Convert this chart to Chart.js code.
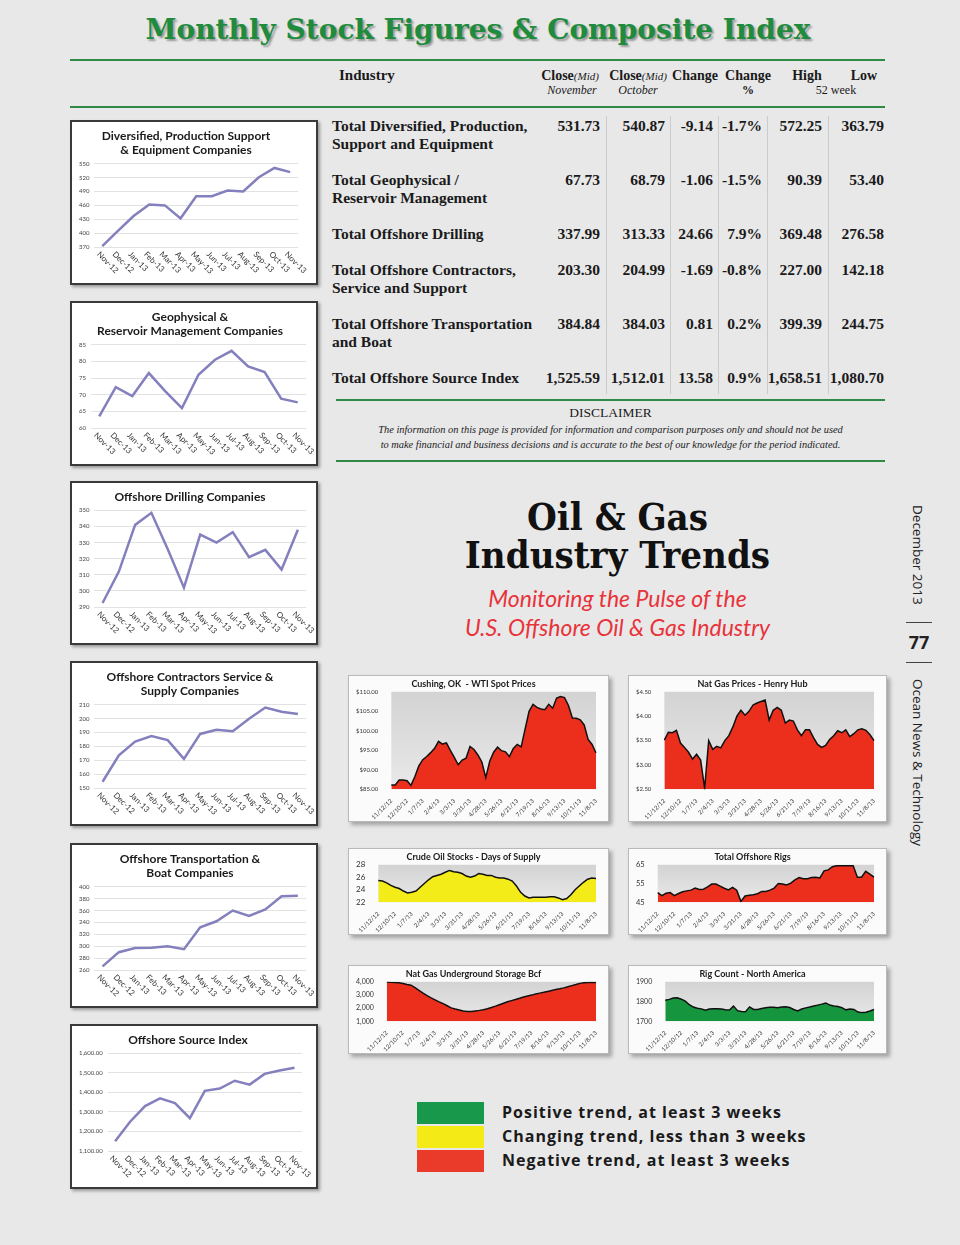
<!DOCTYPE html>
<html>
<head>
<meta charset="utf-8">
<script src="https://cdn.jsdelivr.net/npm/chart.js@4.4.0/dist/chart.umd.min.js"></script>
<style>
  body { margin: 0; background: #e8e8e9; }
  #page { position: relative; width: 960px; height: 1245px; background: #e8e8e9; overflow: hidden; font-family: "Liberation Serif", serif; color: #1a1a1a; }
  .abs { position: absolute; }
  .gline { position: absolute; height: 2px; background: #2f8a45; }
  .vsep { position: absolute; width: 1px; background: #cbcbcb; top: 116px; height: 278px; }
  .hdr { position: absolute; width: 100px; text-align: center; font-size: 14px; font-weight: bold; }
  .hdr i { font-size: 11px; font-weight: normal; }
  .sub { position: absolute; width: 100px; text-align: center; font-size: 12px; font-style: italic; }
  .rowname { position: absolute; left: 332px; font-size: 15.5px; font-weight: bold; line-height: 18px; }
  .num { position: absolute; width: 80px; text-align: right; font-size: 15.5px; font-weight: bold; line-height: 18px; }
  .lbox { position: absolute; left: 70px; width: 244px; border: 2px solid #3a3a3a; background: #fff; box-shadow: 2px 2px 3px rgba(0,0,0,0.35); }
  .rbox { position: absolute; border: 1px solid #b9b9b9; background: #fbfbfb; box-shadow: 3px 3px 4px rgba(0,0,0,0.3); }
  canvas { display: block; }
  .leg { position: absolute; left: 417px; width: 67px; height: 22px; }
  .legt { position: absolute; left: 502px; font-family: "Open Sans", sans-serif; font-weight: bold; font-size: 16px; letter-spacing: 1px; color: #1a1a1a; }
  .side { position: absolute; writing-mode: vertical-rl; font-family: "Open Sans", sans-serif; font-size: 13.5px; color: #222; }
</style>
</head>
<body>
<div id="page">
  <div class="abs" style="left:0;width:956px;top:13px;text-align:center;font-family:'DejaVu Serif',serif;font-weight:bold;font-size:28px;color:#1e8b3d;text-shadow:2px 2px 2px rgba(0,0,0,0.35);">Monthly Stock Figures &amp; Composite Index</div>
  <div class="gline" style="left:70px;width:815px;top:59px;"></div>

  <div class="abs" style="left:339px;top:67px;font-size:15px;font-weight:bold;">Industry</div>
  <div class="hdr" style="left:520px;top:68px;">Close<i>(Mid)</i></div>
  <div class="hdr" style="left:588px;top:68px;">Close<i>(Mid)</i></div>
  <div class="hdr" style="left:645px;top:68px;">Change</div>
  <div class="hdr" style="left:698px;top:68px;">Change</div>
  <div class="hdr" style="left:757px;top:68px;">High</div>
  <div class="hdr" style="left:814px;top:68px;">Low</div>
  <div class="sub" style="left:522px;top:83px;">November</div>
  <div class="sub" style="left:588px;top:83px;">October</div>
  <div class="sub" style="left:698px;top:83px;font-style:normal;font-weight:bold;">%</div>
  <div class="sub" style="left:786px;top:83px;font-style:normal;">52 week</div>
  <div class="gline" style="left:70px;width:815px;top:106px;"></div>

  <div class="vsep" style="left:606px;"></div>
  <div class="vsep" style="left:670px;"></div>
  <div class="vsep" style="left:718px;"></div>
  <div class="vsep" style="left:767px;"></div>
  <div class="vsep" style="left:828px;"></div>
  <div id="table"></div>

  <div class="gline" style="left:336px;width:549px;top:399px;"></div>
  <div class="abs" style="left:336px;width:549px;top:405px;text-align:center;font-size:13.5px;">DISCLAIMER</div>
  <div class="abs" style="left:336px;width:549px;top:422px;text-align:center;font-size:10.4px;font-style:italic;line-height:15px;">The information on this page is provided for information and comparison purposes only and should not be used<br>to make financial and business decisions and is accurate to the best of our knowledge for the period indicated.</div>
  <div class="gline" style="left:336px;width:549px;top:460px;"></div>

  <div class="abs" style="left:420px;width:395px;top:498px;text-align:center;font-family:'DejaVu Serif',serif;font-weight:bold;font-size:38px;line-height:38px;color:#111;transform:scaleX(0.9);">Oil &amp; Gas<br>Industry Trends</div>
  <div class="abs" style="left:420px;width:395px;top:584px;text-align:center;font-family:Lato,sans-serif;font-style:italic;font-size:23px;line-height:29px;color:#e8333b;">Monitoring the Pulse of the<br>U.S. Offshore Oil &amp; Gas Industry</div>

  <div class="side" style="left:909px;top:505px;">December 2013</div>
  <div class="abs" style="left:906px;width:26px;top:622px;height:1px;background:#444;"></div>
  <div class="abs" style="left:900px;width:38px;top:630px;text-align:center;font-family:'Open Sans',sans-serif;font-weight:bold;font-size:18px;color:#222;">77</div>
  <div class="abs" style="left:906px;width:26px;top:662px;height:1px;background:#444;"></div>
  <div class="side" style="left:909px;top:679px;">Ocean News &amp; Technology</div>

  <div class="lbox" style="top:120px;height:161px;"><canvas id="c1" width="244" height="161"></canvas></div>
  <div class="lbox" style="top:301px;height:161px;"><canvas id="c2" width="244" height="161"></canvas></div>
  <div class="lbox" style="top:481px;height:160px;"><canvas id="c3" width="244" height="160"></canvas></div>
  <div class="lbox" style="top:661px;height:161px;"><canvas id="c4" width="244" height="161"></canvas></div>
  <div class="lbox" style="top:843px;height:161px;"><canvas id="c5" width="244" height="161"></canvas></div>
  <div class="lbox" style="top:1024px;height:161px;"><canvas id="c6" width="244" height="161"></canvas></div>

  <div class="rbox" style="left:348px;top:675px;"><canvas id="a1" width="259" height="145"></canvas></div>
  <div class="rbox" style="left:628px;top:675px;"><canvas id="a2" width="257" height="145"></canvas></div>
  <div class="rbox" style="left:348px;top:848px;"><canvas id="a3" width="259" height="85"></canvas></div>
  <div class="rbox" style="left:628px;top:848px;"><canvas id="a4" width="257" height="85"></canvas></div>
  <div class="rbox" style="left:348px;top:965px;"><canvas id="a5" width="259" height="87"></canvas></div>
  <div class="rbox" style="left:628px;top:965px;"><canvas id="a6" width="257" height="87"></canvas></div>

  <div class="leg" style="top:1102px;background:#17984a;"></div>
  <div class="leg" style="top:1126px;background:#f3ea16;"></div>
  <div class="leg" style="top:1150px;background:#ea3a2a;"></div>
  <div class="legt" style="top:1101px;">Positive trend, at least 3 weeks</div>
  <div class="legt" style="top:1125px;">Changing trend, less than 3 weeks</div>
  <div class="legt" style="top:1149px;">Negative trend, at least 3 weeks</div>
</div>

<script>
// table
const industries = [
  ['Total Diversified, Production,', 'Support and Equipment'],
  ['Total Geophysical /', 'Reservoir Management'],
  ['Total Offshore Drilling'],
  ['Total Offshore Contractors,', 'Service and Support'],
  ['Total Offshore Transportation', 'and Boat'],
  ['Total Offshore Source Index']
];
const closeNov = ['531.73', '67.73', '337.99', '203.30', '384.84', '1,525.59'];
const closeOct = ['540.87', '68.79', '313.33', '204.99', '384.03', '1,512.01'];
const changeAbs = ['-9.14', '-1.06', '24.66', '-1.69', '0.81', '13.58'];
const changePct = ['-1.7%', '-1.5%', '7.9%', '-0.8%', '0.2%', '0.9%'];
const high52 = ['572.25', '90.39', '369.48', '227.00', '399.39', '1,658.51'];
const low52 = ['363.79', '53.40', '276.58', '142.18', '244.75', '1,080.70'];

// monthly line charts
const months = ['Nov-12', 'Dec-12', 'Jan-13', 'Feb-13', 'Mar-13', 'Apr-13', 'May-13', 'Jun-13', 'Jul-13', 'Aug-13', 'Sep-13', 'Oct-13', 'Nov-13'];
const monthsGeo = ['Nov-13', 'Dec-13', 'Jan-13', 'Feb-13', 'Mar-13', 'Apr-13', 'May-13', 'Jun-13', 'Jul-13', 'Aug-13', 'Sep-13', 'Oct-13', 'Nov-13'];
const diversified = [372, 405, 437, 462, 460, 432, 480, 480, 492, 490, 521, 541, 532];
const geophysical = [63.5, 72.3, 69.6, 76.5, 71, 66, 76, 80.5, 83.2, 78.5, 76.8, 68.8, 67.7];
const drilling = [292.5, 312, 341, 348.5, 326, 302, 335, 330, 336.5, 321, 325.5, 313.3, 338];
const contractors = [154.5, 173.5, 183.5, 187.5, 184.5, 171, 189, 192, 191, 200, 208, 205, 203.3];
const transport = [266, 290, 297, 297.5, 300, 295, 332, 342, 360, 351, 362, 384, 385];
const transportTicks = ['260', '280', '300', '320', '240', '360', '380', '400'];
const sourceIndex = [1150, 1250, 1330, 1370, 1345, 1268, 1408, 1420, 1460, 1440, 1495, 1512, 1526];

// weekly area charts
const weekTicks = ['11/12/12', '12/10/12', '1/7/13', '2/4/13', '3/3/13', '3/31/13', '4/28/13', '5/26/13', '6/21/13', '7/19/13', '8/16/13', '9/13/13', '10/11/13', '11/8/13'];
const wtiSpot = [86.1, 86.1, 87.4, 87.4, 87.2, 86.0, 88.3, 91.0, 92.6, 93.4, 94.4, 95.5, 97.3, 96.6, 96.9, 95.0, 93.2, 91.3, 92.5, 93.0, 96.0, 95.2, 93.8, 92.0, 88.0, 92.2, 94.5, 95.8, 94.9, 94.6, 93.4, 95.5, 96.5, 95.9, 100.5, 105.0, 106.8, 106.0, 105.6, 105.4, 106.8, 105.8, 108.4, 108.8, 108.5, 106.5, 103.3, 103.2, 102.8, 101.5, 97.8, 96.5, 94.3];
const henryHub = [3.51, 3.67, 3.66, 3.71, 3.45, 3.36, 3.26, 3.12, 3.22, 3.10, 2.52, 3.50, 3.32, 3.38, 3.35, 3.50, 3.60, 3.78, 4.00, 4.12, 4.02, 4.10, 4.23, 4.27, 4.30, 4.33, 3.92, 4.12, 4.18, 4.12, 3.86, 3.92, 3.90, 3.72, 3.60, 3.72, 3.72, 3.56, 3.42, 3.36, 3.40, 3.52, 3.60, 3.70, 3.66, 3.72, 3.58, 3.64, 3.72, 3.74, 3.71, 3.62, 3.50];
const crudeDays = [25.5, 25.4, 25.1, 24.7, 24.4, 24.2, 23.8, 23.5, 23.6, 23.8, 24.4, 25.0, 25.6, 26.1, 26.3, 26.5, 26.8, 27.1, 26.9, 26.8, 26.6, 26.2, 26.0, 26.2, 26.6, 26.5, 26.3, 26.3, 26.0, 25.9, 25.9, 25.7, 25.4, 24.6, 23.6, 23.0, 22.7, 22.8, 22.8, 22.8, 22.8, 22.9, 22.9, 22.7, 22.4, 22.6, 23.2, 24.0, 24.6, 25.2, 25.7, 25.9, 25.8];
const offshoreRigs = [50.2, 48.6, 49.8, 50.2, 48.6, 49.7, 50.6, 51.1, 51.5, 52.6, 51.8, 52.0, 53.2, 54.7, 54.7, 53.6, 52.5, 51.6, 53.0, 51.5, 45.5, 48.4, 48.8, 49.0, 49.6, 50.8, 50.8, 51.5, 52.6, 55.0, 54.8, 54.2, 55.2, 57.0, 58.2, 57.6, 57.6, 58.2, 58.4, 58.0, 61.8, 62.3, 64.0, 64.5, 64.5, 64.5, 64.5, 64.5, 58.4, 58.4, 61.5, 60.0, 58.4];
const gasStorage = [3980, 3960, 3950, 3920, 3870, 3800, 3740, 3550, 3340, 3140, 2950, 2780, 2630, 2480, 2340, 2180, 2020, 1930, 1860, 1780, 1740, 1740, 1790, 1830, 1880, 1960, 2050, 2150, 2260, 2370, 2480, 2570, 2660, 2750, 2850, 2920, 2990, 3070, 3140, 3200, 3270, 3340, 3410, 3470, 3540, 3620, 3710, 3790, 3880, 3920, 3950, 3960, 3950];
const rigCountNA = [1807, 1811, 1818, 1819, 1812, 1802, 1784, 1772, 1766, 1763, 1756, 1762, 1764, 1764, 1762, 1759, 1757, 1777, 1754, 1750, 1748, 1773, 1760, 1760, 1765, 1769, 1771, 1771, 1769, 1772, 1774, 1770, 1760, 1752, 1762, 1768, 1772, 1777, 1782, 1787, 1793, 1782, 1778, 1775, 1769, 1758, 1762, 1760, 1747, 1744, 1746, 1752, 1760];

// build the table rows (two-line rows take 54px, single-line rows 36px)
const tbl = document.getElementById('table');
const numCols = [[closeNov, 600], [closeOct, 665], [changeAbs, 713], [changePct, 762], [high52, 822], [low52, 884]];
let rowTop = 117;
industries.forEach((name, r) => {
  tbl.insertAdjacentHTML('beforeend', `<div class="rowname" style="top:${rowTop}px">${name.join('<br>')}</div>`);
  numCols.forEach(([col, right]) => {
    tbl.insertAdjacentHTML('beforeend', `<div class="num" style="top:${rowTop}px;left:${right - 80}px">${col[r]}</div>`);
  });
  rowTop += (name.length + 1) * 18;
});

Chart.defaults.animation = false;
Chart.defaults.responsive = false;
Chart.defaults.devicePixelRatio = 1;
Chart.defaults.font.family = 'Lato, sans-serif';

// x labels slanted downwards (clockwise), as in the small monthly charts
const slantLabels = {
  id: 'slantLabels',
  afterDraw(chart) {
    const xs = chart.scales.x, ctx = chart.ctx;
    const y = chart.chartArea.bottom + 6;
    ctx.save();
    ctx.font = '8px Lato, sans-serif';
    ctx.fillStyle = '#333';
    ctx.textAlign = 'left';
    ctx.textBaseline = 'middle';
    chart.data.labels.forEach((lab, i) => {
      ctx.save();
      ctx.translate(xs.getPixelForTick(i) - 4, y);
      ctx.rotate(Math.PI / 4);
      ctx.fillText(lab, 0, 0);
      ctx.restore();
    });
    ctx.restore();
  }
};

const plotBg = {
  id: 'plotBg',
  beforeDatasetsDraw(chart) {
    const {ctx, chartArea: a} = chart;
    const g = ctx.createLinearGradient(0, a.top, 0, a.bottom);
    g.addColorStop(0, '#d3d3d3');
    g.addColorStop(1, '#e9e9e9');
    ctx.save();
    ctx.fillStyle = g;
    ctx.fillRect(a.left, a.top, a.width, a.height);
    ctx.restore();
  }
};

function monthlyChart(id, title, labels, values, yMin, yMax, step, padRight, fmt) {
  new Chart(document.getElementById(id), {
    type: 'line',
    data: {
      labels: labels,
      datasets: [{ data: values, borderColor: '#8380bd', borderWidth: 2.5, pointRadius: 0, tension: 0 }]
    },
    options: {
      layout: { padding: { left: 2, right: padRight, top: 0, bottom: 28 } },
      plugins: {
        legend: { display: false },
        tooltip: { enabled: false },
        title: { display: true, text: title, color: '#1a1a1a', font: { size: 12, weight: 'bold' }, padding: { top: 7, bottom: 6 }, lineHeight: 1.25 }
      },
      scales: {
        x: { offset: true, grid: { display: false }, border: { display: false }, ticks: { display: false } },
        y: {
          min: yMin, max: yMax,
          border: { display: false },
          grid: { color: '#e2e2e2', drawTicks: false },
          ticks: { stepSize: step, autoSkip: false, padding: 5, color: '#444', font: { size: 6 }, callback: fmt || (v => v) }
        }
      }
    },
    plugins: [slantLabels]
  });
}

monthlyChart('c1', ['Diversified, Production Support', '& Equipment Companies'], months, diversified, 370, 550, 30, 18);
monthlyChart('c2', ['Geophysical &', 'Reservoir Management Companies'], monthsGeo, geophysical, 60, 85, 5, 10);
monthlyChart('c3', 'Offshore Drilling Companies', months, drilling, 290, 350, 10, 10);
monthlyChart('c4', ['Offshore Contractors Service &', 'Supply Companies'], months, contractors, 150, 210, 10, 10);
monthlyChart('c5', ['Offshore Transportation &', 'Boat Companies'], months, transport, 260, 400, 20, 10,
  v => transportTicks[(v - 260) / 20]);
monthlyChart('c6', 'Offshore Source Index', months, sourceIndex, 1100, 1600, 100, 14,
  v => v.toLocaleString('en-US', { minimumFractionDigits: 2, maximumFractionDigits: 2 }));

const weekLabels = Array.from({ length: (weekTicks.length - 1) * 4 + 1 }, (_, i) => i % 4 === 0 ? weekTicks[i / 4] : '');

function weeklyChart(id, title, values, yMin, yMax, step, fillColor, fmt, tickSize) {
  new Chart(document.getElementById(id), {
    type: 'line',
    data: {
      labels: weekLabels,
      datasets: [{ data: values, fill: 'start', backgroundColor: fillColor, borderColor: '#111', borderWidth: 1.5, pointRadius: 0, tension: 0 }]
    },
    options: {
      layout: { padding: { left: 2, right: 12, top: 0, bottom: 0 } },
      plugins: {
        legend: { display: false },
        tooltip: { enabled: false },
        title: { display: true, text: title, color: '#1a1a1a', font: { size: 9, weight: 'bold' }, padding: { top: 3, bottom: 2 } }
      },
      scales: {
        x: {
          grid: { display: false }, border: { display: false },
          ticks: { autoSkip: false, minRotation: 45, maxRotation: 45, padding: 0, color: '#333', font: { size: 6 } }
        },
        y: {
          min: yMin, max: yMax,
          grid: { display: false }, border: { display: false },
          ticks: { stepSize: step, autoSkip: false, padding: 5, color: '#333', font: { size: tickSize }, callback: fmt }
        }
      }
    },
    plugins: [plotBg]
  });
}

const dollars = v => '$' + v.toFixed(2);
weeklyChart('a1', 'Cushing, OK  - WTI Spot Prices', wtiSpot, 85, 110, 5, '#ec2f1d', dollars, 6);
weeklyChart('a2', 'Nat Gas Prices - Henry Hub', henryHub, 2.5, 4.5, 0.5, '#ec2f1d', dollars, 6);
weeklyChart('a3', 'Crude Oil Stocks - Days of Supply', crudeDays, 22, 28, 2, '#f4ec18', v => v, 8);
weeklyChart('a4', 'Total Offshore Rigs', offshoreRigs, 45, 65, 10, '#ec2f1d', v => v, 7.5);
weeklyChart('a5', 'Nat Gas Underground Storage Bcf', gasStorage, 1000, 4000, 1000, '#ec2f1d', v => v.toLocaleString('en-US'), 7);
weeklyChart('a6', 'Rig Count - North America', rigCountNA, 1700, 1900, 100, '#16953f', v => v, 7);
</script>
</body>
</html>
